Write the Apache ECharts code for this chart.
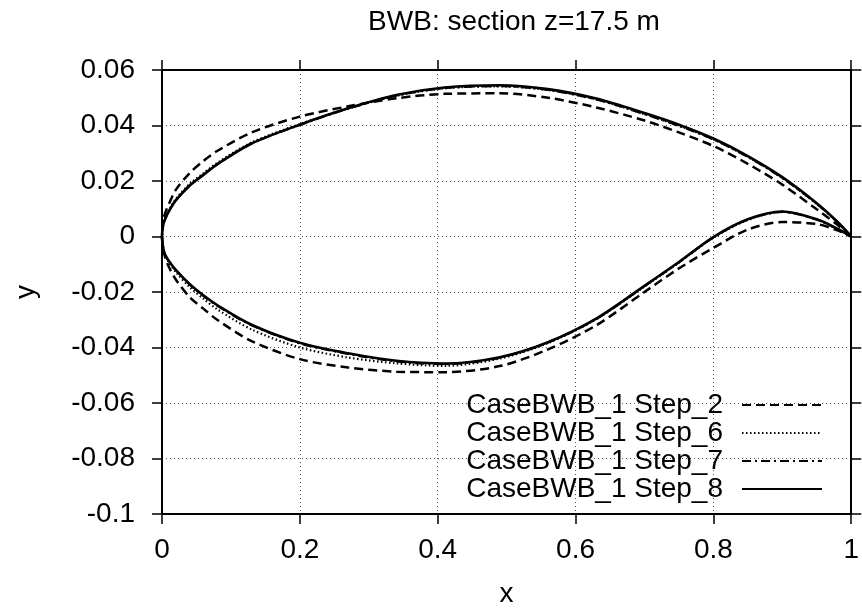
<!DOCTYPE html>
<html>
<head>
<meta charset="utf-8">
<script src="https://cdn.jsdelivr.net/npm/echarts@6/dist/echarts.min.js"></script>
<style>
html,body{margin:0;padding:0;background:#fff;}
#c{width:862px;height:613px;}
</style>
</head>
<body>
<div id="c"></div>
<script>
// chordwise stations shared by all sections
var xs = [0, 0.002, 0.005, 0.01, 0.02, 0.04, 0.06, 0.08, 0.13, 0.2, 0.27, 0.34, 0.41, 0.49, 0.56, 0.63, 0.7, 0.75, 0.8, 0.85, 0.9, 0.95, 0.98, 1.0];

// Step_2 (dashed)
var step2Upper = [0, 0.0060, 0.0088, 0.0117, 0.0168, 0.0228, 0.0272, 0.0308, 0.0375, 0.0432, 0.0469, 0.0498, 0.0514, 0.0516, 0.0500, 0.0465, 0.0418, 0.0375, 0.0326, 0.0262, 0.0187, 0.0098, 0.0042, 0];
var step2Lower = [0, -0.0050, -0.0078, -0.0110, -0.0155, -0.0218, -0.0260, -0.0300, -0.0377, -0.0442, -0.0472, -0.0487, -0.0489, -0.0467, -0.0407, -0.0320, -0.0200, -0.0115, -0.0041, 0.0025, 0.0052, 0.0045, 0.0022, 0];

// Step_6 (dotted)
var step6Upper = [0, 0.0046, 0.0068, 0.0094, 0.0135, 0.0189, 0.0228, 0.0265, 0.0339, 0.0405, 0.0461, 0.0507, 0.0534, 0.0541, 0.0528, 0.0494, 0.0441, 0.0399, 0.0350, 0.0287, 0.0211, 0.0117, 0.0052, 0];
var step6Lower = [0, -0.0047, -0.0071, -0.0093, -0.0128, -0.0182, -0.0224, -0.0262, -0.0335, -0.0400, -0.0436, -0.0457, -0.0466, -0.0440, -0.0384, -0.0298, -0.0180, -0.0094, -0.0004, 0.0060, 0.0089, 0.0061, 0.0027, 0];

// Step_7 (dash-dot)
var step7Upper = [0, 0.0045, 0.0066, 0.0091, 0.0131, 0.0184, 0.0222, 0.0260, 0.0335, 0.0402, 0.0461, 0.0508, 0.0535, 0.0542, 0.0528, 0.0494, 0.0441, 0.0399, 0.0350, 0.0287, 0.0211, 0.0118, 0.0052, 0];
var step7Lower = [0, -0.0045, -0.0069, -0.0089, -0.0121, -0.0173, -0.0214, -0.0249, -0.0320, -0.0385, -0.0423, -0.0450, -0.0460, -0.0437, -0.0382, -0.0297, -0.0179, -0.0093, -0.0003, 0.0061, 0.0089, 0.0061, 0.0027, 0];

// Step_8 (solid)
var step8Upper = [0, 0.0045, 0.0066, 0.0091, 0.0130, 0.0183, 0.0222, 0.0260, 0.0335, 0.0403, 0.0462, 0.0510, 0.0537, 0.0545, 0.0531, 0.0497, 0.0445, 0.0403, 0.0353, 0.0290, 0.0214, 0.0120, 0.0053, 0];
var step8Lower = [0, -0.0045, -0.0068, -0.0088, -0.0120, -0.0171, -0.0212, -0.0247, -0.0318, -0.0383, -0.0421, -0.0448, -0.0458, -0.0435, -0.0381, -0.0296, -0.0178, -0.0092, -0.0002, 0.0062, 0.0090, 0.0062, 0.0028, 0];

var seriesNames = ['CaseBWB_1 Step_2', 'CaseBWB_1 Step_6', 'CaseBWB_1 Step_7', 'CaseBWB_1 Step_8'];
var xTicks = [0, 0.2, 0.4, 0.6, 0.8, 1];
var yTicks = [-0.1, -0.08, -0.06, -0.04, -0.02, 0, 0.02, 0.04, 0.06];

function loop(up, lo) {
  var d = [];
  for (var i = xs.length - 1; i >= 0; i--) d.push([xs[i], up[i]]);
  for (var j = 1; j < xs.length; j++) d.push([xs[j], lo[j]]);
  return d;
}
var sections = [
  [step2Upper, step2Lower, [9, 5], 2.5],
  [step6Upper, step6Lower, [1.5, 2.5], 2.2],
  [step7Upper, step7Lower, [9, 4, 2, 4], 2.3],
  [step8Upper, step8Lower, 'solid', 2.6]
];

var FONT = 'Liberation Sans, Arial, Helvetica, sans-serif';
var chart = echarts.init(document.getElementById('c'), null, {renderer: 'canvas'});
var tickStyle = {show: true, inside: false, length: 10, lineStyle: {color: '#000', width: 1.5}};
var axisLineStyle = {show: true, onZero: false, lineStyle: {color: '#000', width: 2}};
var gridLine = {show: true, lineStyle: {color: '#555', width: 1, type: [1, 3]}};

chart.setOption({
  backgroundColor: '#fff',
  animation: false,
  title: {
    text: 'BWB: section z=17.5 m',
    left: 509, textAlign: 'center', top: 3,
    textStyle: {fontFamily: FONT, fontSize: 28, fontWeight: 'normal', color: '#000'}
  },
  grid: {left: 162, right: 5, top: 70, bottom: 98, containLabel: false},
  legend: {
    orient: 'vertical', right: 39, top: 391, align: 'right',
    itemWidth: 80, itemHeight: 14, itemGap: 0, padding: 0,
    data: seriesNames,
    itemStyle: {opacity: 0},
    textStyle: {fontFamily: FONT, fontSize: 28, color: '#000', lineHeight: 28, padding: [0, 14, 0, 0]},
    selectedMode: false
  },
  xAxis: [{
    type: 'value', min: 0, max: 1, interval: 0.2, position: 'bottom',
    axisLine: axisLineStyle, axisTick: tickStyle, splitLine: gridLine,
    axisLabel: {fontFamily: FONT, fontSize: 28, color: '#000', margin: 22,
      formatter: function (v) { return String(Math.round(v * 10) / 10); }},
    name: 'x', nameLocation: 'middle', nameGap: 66,
    nameTextStyle: {fontFamily: FONT, fontSize: 28, color: '#000'}
  }, {
    type: 'value', min: 0, max: 1, interval: 0.2, position: 'top',
    axisLine: axisLineStyle, axisTick: tickStyle, splitLine: {show: false},
    axisLabel: {show: false}
  }],
  yAxis: [{
    type: 'value', min: -0.1, max: 0.06, interval: 0.02, position: 'left',
    axisLine: axisLineStyle, axisTick: tickStyle, splitLine: gridLine,
    axisLabel: {fontFamily: FONT, fontSize: 28, color: '#000', margin: 27,
      formatter: function (v) { return String(Math.round(v * 100) / 100); }},
    name: 'y', nameLocation: 'middle', nameGap: 122, nameRotate: 90,
    nameTextStyle: {fontFamily: FONT, fontSize: 28, color: '#000'}
  }, {
    type: 'value', min: -0.1, max: 0.06, interval: 0.02, position: 'right',
    axisLine: axisLineStyle, axisTick: tickStyle, splitLine: {show: false},
    axisLabel: {show: false}
  }],
  series: sections.map(function (s, k) {
    return {
      name: seriesNames[k], type: 'line', xAxisIndex: 0, yAxisIndex: 0,
      data: loop(s[0], s[1]), symbol: 'none', showSymbol: false, smooth: 0.3,
      lineStyle: {color: '#000', width: s[3], type: s[2]},
      itemStyle: {color: '#000'}
    };
  })
});
</script>
</body>
</html>
